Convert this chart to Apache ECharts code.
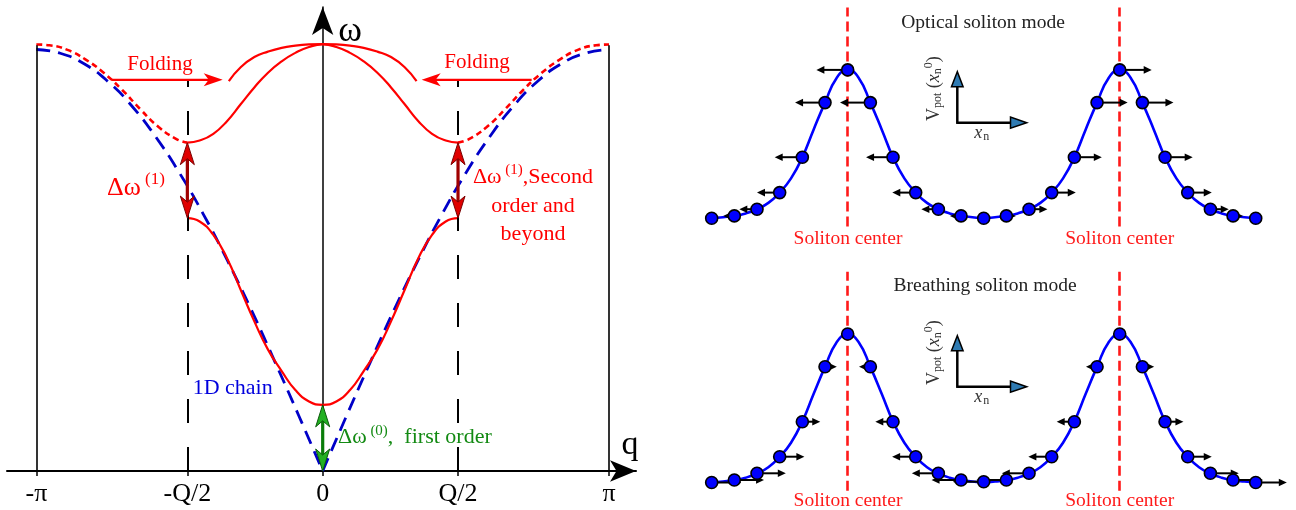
<!DOCTYPE html>
<html><head><meta charset="utf-8">
<script src="https://cdn.jsdelivr.net/npm/echarts@6/dist/echarts.min.js"></script>
<style>html,body{margin:0;padding:0;background:#fff}#c{width:1296px;height:510px}</style>
</head><body><div id="c"></div>
<script>
// ---------------- Left panel data (q in rad, ω normalised) ----------------
const PI = Math.PI;
const HALF_Q = 1.485;
const qTickValues = [-PI, -HALF_Q, 0, HALF_Q, PI];
const qTickLabels = ['-π', '-Q/2', '0', 'Q/2', 'π'];

// 1D chain (blue dashed)
const chainLeft = [[-3.142,1.0],[-2.880,0.991],[-2.618,0.966],[-2.356,0.924],[-2.094,0.866],[-1.833,0.793],[-1.571,0.707],[-1.309,0.609],[-1.047,0.5],[-0.785,0.383],[-0.524,0.259],[-0.262,0.131],[0,0]];
const chainRight = [[0,0],[0.262,0.131],[0.524,0.259],[0.785,0.383],[1.047,0.5],[1.309,0.609],[1.571,0.707],[1.833,0.793],[2.094,0.866],[2.356,0.924],[2.618,0.966],[2.880,0.991],[3.142,1.0]];
// lower band (red solid)
const lowerBand = [[-1.485,0.600],[-1.35,0.592],[-1.2,0.560],[-1.05,0.505],[-0.9,0.430],[-0.75,0.355],[-0.6,0.288],[-0.45,0.237],[-0.3,0.192],[-0.15,0.165],[0,0.157],[0.15,0.165],[0.3,0.192],[0.45,0.237],[0.6,0.288],[0.75,0.355],[0.9,0.430],[1.05,0.505],[1.2,0.560],[1.35,0.592],[1.485,0.600]];
// upper band (red solid)
const upperBand = [[-1.485,0.779],[-1.35,0.784],[-1.2,0.800],[-1.05,0.830],[-0.9,0.870],[-0.75,0.910],[-0.6,0.945],[-0.45,0.972],[-0.3,0.992],[-0.15,1.006],[0,1.012],[0.15,1.006],[0.3,0.992],[0.45,0.972],[0.6,0.945],[0.75,0.910],[0.9,0.870],[1.05,0.830],[1.2,0.800],[1.35,0.784],[1.485,0.779]];
// folded cap (red solid)
const capArc = [[-1.03,0.925],[-0.9,0.958],[-0.75,0.982],[-0.6,0.995],[-0.45,1.004],[-0.3,1.009],[-0.15,1.012],[0,1.013],[0.15,1.012],[0.3,1.009],[0.45,1.004],[0.6,0.995],[0.75,0.982],[0.9,0.958],[1.03,0.925]];
// outer extended-zone branches (red dotted)
const outerLeft = [[-3.142,1.012],[-3.0,1.010],[-2.8,0.999],[-2.6,0.976],[-2.4,0.944],[-2.2,0.904],[-2.0,0.858],[-1.8,0.816],[-1.6,0.787],[-1.485,0.779]];
const outerRight = [[1.485,0.779],[1.6,0.787],[1.8,0.816],[2.0,0.858],[2.2,0.904],[2.4,0.944],[2.6,0.976],[2.8,0.999],[3.0,1.010],[3.142,1.012]];
// folding arrows: [from q, to q, ω]
const foldArrows = [[-2.315,-1.097,0.928],[2.293,1.086,0.928]];
// gap arrows: [q, ω low, ω high]
const gap1Arrows = [[-HALF_Q,0.600,0.779],[HALF_Q,0.600,0.779]];
const gap0Arrows = [[0,0,0.157]];
const zoneLines = [-PI, PI];
const zoneTop = 1.01;
const halfQLines = [-HALF_Q, HALF_Q];
const halfQTop = 0.928;

// ---------------- Right panels data ----------------
const sites = [0,1,2,3,4,5,6,7,8,9,10,11,12,13,14,15,16,17,18,19,20,21,22,23,24];
const opticalProfile = [0.2,2.5,9.2,25.8,61.2,115.8,148.5,115.8,61.2,25.8,9.2,2.5,0.2,2.5,9.2,25.8,61.2,115.8,148.5,115.8,61.2,25.8,9.2,2.5,0.2];
const breathingProfile = [0.2,2.7,9.4,26,61,116,148.7,116,61,26,9.4,2.7,1,2.7,9.4,26,61,116,148.7,116,61,26,9.4,2.7,0.2];
const opticalDisp = [0,-0.49,-0.78,-1.0,-1.22,-1.32,-1.38,-1.34,-1.19,-1.03,-0.75,-0.49,0,0.42,0.81,1.06,1.21,1.35,1.41,1.37,1.22,1.06,0.81,0.44,0];
const breathingDisp = [1.3,1.31,1.27,1.09,0.79,0.52,0,-0.5,-0.78,-1.04,-1.17,-1.3,-1.36,-1.32,-1.2,-1.03,-0.78,-0.49,0,0.52,0.81,1.06,1.25,1.32,1.37];
const curveStep = 0.5;
const solitonCurve = [0.2,1.2,2.5,5,9.2,15.5,25.8,40,61.2,89,115.8,140,148.5,140,115.8,89,61.2,40,25.8,15.5,9.2,5,2.5,1.2,0.2,1.2,2.5,5,9.2,15.5,25.8,40,61.2,89,115.8,140,148.5,140,115.8,89,61.2,40,25.8,15.5,9.2,5,2.5,1.2,0.2];
const solitonCenters = [6, 18];
const centerLineRange = [-8, 211];

const SERIF = '"Liberation Serif","Times New Roman",serif';

function stealth(tip, ux, uy, len, hw, notch) {
  const bx = tip[0] - ux * len, by = tip[1] - uy * len;
  const px = -uy, py = ux;
  return [[tip[0], tip[1]], [bx + px * hw, by + py * hw], [tip[0] - ux * (len - notch), tip[1] - uy * (len - notch)], [bx - px * hw, by - py * hw]];
}

function doubleArrowSeries(data, shaft, fill, stroke) {
  return {
    type: 'custom', xAxisIndex: 0, yAxisIndex: 0, z: 5, clip: false, silent: true,
    data: data,
    renderItem: function (params, api) {
      const a = api.coord([api.value(0), api.value(1)]);
      const b = api.coord([api.value(0), api.value(2)]);
      return { type: 'group', children: [
        { type: 'line', shape: { x1: a[0], y1: a[1] - 10, x2: b[0], y2: b[1] + 10 }, style: { stroke: shaft, lineWidth: 3.2 } },
        { type: 'polygon', shape: { points: stealth(b, 0, -1, 22, 7, 6) }, style: { fill: fill, stroke: stroke, lineWidth: 1 } },
        { type: 'polygon', shape: { points: stealth(a, 0, 1, 22, 7, 6) }, style: { fill: fill, stroke: stroke, lineWidth: 1 } }
      ]};
    }
  };
}

function solitonSeries(gi, profile, disp) {
  const pts = sites.map((s, i) => [s, profile[i]]);
  const arr = sites.map((s, i) => [s, profile[i], disp[i]]);
  const curve = solitonCurve.map((h, i) => [i * curveStep, h]);
  return [
    { type: 'line', xAxisIndex: gi, yAxisIndex: gi, data: [], silent: true, z: 1,
      markLine: { silent: true, symbol: ['none', 'none'], label: { show: false }, z: 1,
        lineStyle: { color: '#ff1a1a', width: 2.6, type: [10, 5] },
        data: solitonCenters.map(c => [{ coord: [c, centerLineRange[0]] }, { coord: [c, centerLineRange[1]] }]) } },
    { type: 'line', xAxisIndex: gi, yAxisIndex: gi, data: curve, smooth: true, showSymbol: false, silent: true,
      lineStyle: { color: '#0000ff', width: 2.6 }, z: 2 },
    { type: 'custom', xAxisIndex: gi, yAxisIndex: gi, z: 3, clip: false, silent: true, data: arr,
      renderItem: function (params, api) {
        const d = api.value(2);
        if (!d) return null;
        const p0 = api.coord([api.value(0), api.value(1)]);
        const p1 = api.coord([api.value(0) + d, api.value(1)]);
        const ux = Math.sign(p1[0] - p0[0]);
        return { type: 'group', children: [
          { type: 'line', shape: { x1: p0[0], y1: p0[1], x2: p1[0] - ux * 6, y2: p1[1] }, style: { stroke: '#000', lineWidth: 2 } },
          { type: 'polygon', shape: { points: [[p1[0], p1[1]], [p1[0] - ux * 8, p1[1] - 3.8], [p1[0] - ux * 8, p1[1] + 3.8]] }, style: { fill: '#000' } }
        ]};
      } },
    { type: 'scatter', xAxisIndex: gi, yAxisIndex: gi, data: pts, symbolSize: 12, z: 4, silent: true,
      itemStyle: { color: '#0000ff', borderColor: '#000', borderWidth: 1.6, opacity: 1 } }
  ];
}

function labelFor(v) {
  for (let i = 0; i < qTickValues.length; i++) if (Math.abs(v - qTickValues[i]) < 1e-6) return qTickLabels[i];
  return '';
}

function redLine(data, type) {
  return { type: 'line', xAxisIndex: 0, yAxisIndex: 0, data: data, smooth: true, showSymbol: false, silent: true, z: 3,
    lineStyle: { color: '#ff0000', width: type === 'solid' ? 2.2 : 2.6, type: type } };
}
function blueLine(data) {
  return { type: 'line', xAxisIndex: 0, yAxisIndex: 0, data: data, smooth: true, showSymbol: false, silent: true, z: 2,
    lineStyle: { color: '#0000c8', width: 2.8, type: [14, 8] } };
}

function inset(baseY) {
  const x0 = 957.3;
  return [
    { type: 'line', shape: { x1: x0, y1: baseY + 1.2, x2: x0, y2: baseY - 36 }, style: { stroke: '#000', lineWidth: 2.5 } },
    { type: 'polygon', shape: { points: [[x0, baseY - 51], [x0 - 5.8, baseY - 36], [x0 + 5.8, baseY - 36]] }, style: { fill: '#2f7bb3', stroke: '#000', lineWidth: 1.5 } },
    { type: 'line', shape: { x1: x0, y1: baseY, x2: 1011, y2: baseY }, style: { stroke: '#000', lineWidth: 2.5 } },
    { type: 'polygon', shape: { points: [[1026.7, baseY], [1010.5, baseY - 5.6], [1010.5, baseY + 5.6]] }, style: { fill: '#2f7bb3', stroke: '#000', lineWidth: 1.5 } },
    { type: 'text', x: 981.7, y: baseY + 10.5, style: { text: '{i|x}{s|n}', align: 'center', verticalAlign: 'middle',
      rich: { i: { fontFamily: SERIF, fontStyle: 'italic', fontSize: 18, fill: '#333' }, s: { fontFamily: SERIF, fontSize: 12, fill: '#333', padding: [8, 0, 0, 1] } } } },
    { type: 'text', x: 934, y: baseY - 34, rotation: Math.PI / 2, style: { text: '{r|V}{s|pot}{r| (}{i|x}{s|n}{p|0}{r|)}', align: 'center', verticalAlign: 'middle',
      rich: { r: { fontFamily: SERIF, fontSize: 18, fill: '#333' }, i: { fontFamily: SERIF, fontStyle: 'italic', fontSize: 18, fill: '#333' },
        s: { fontFamily: SERIF, fontSize: 12, fill: '#333', padding: [8, 0, 0, 0] }, p: { fontFamily: SERIF, fontSize: 12, fill: '#333', padding: [0, 0, 10, 0] } } } }
  ];
}

const txt = (x, y, text, size, color, align) => ({ type: 'text', x: x, y: y, silent: true,
  style: { text: text, fontFamily: SERIF, fontSize: size, fill: color, align: align || 'center', verticalAlign: 'middle' } });

const option = {
  animation: false,
  backgroundColor: '#ffffff',
  grid: [
    { left: 7, right: 660, top: 7, bottom: 39 },
    { left: 689, right: 17.6, top: 6.4, bottom: 271.6 },
    { left: 689, right: 17.6, top: 270.7, bottom: 7.3 }
  ],
  xAxis: [
    { gridIndex: 0, type: 'value', min: -3.464, max: 3.438, splitLine: { show: false },
      axisLine: { onZero: true, symbol: ['none', 'arrow'], symbolSize: [16, 26], lineStyle: { color: '#000', width: 2 } },
      axisTick: { show: true, customValues: qTickValues, length: 5, lineStyle: { color: '#000', width: 1.5 } },
      axisLabel: { customValues: qTickValues, formatter: labelFor, fontFamily: SERIF, fontSize: 26, color: '#000', margin: 10 } },
    { gridIndex: 1, type: 'value', min: -1, max: 25, show: false },
    { gridIndex: 2, type: 'value', min: -1, max: 25, show: false }
  ],
  yAxis: [
    { gridIndex: 0, type: 'value', min: 0, max: 1.1008, splitLine: { show: false }, axisTick: { show: false }, axisLabel: { show: false },
      axisLine: { show: true, onZero: true, symbol: ['none', 'arrow'], symbolSize: [16, 28], lineStyle: { color: '#000', width: 1.5 } } },
    { gridIndex: 1, type: 'value', min: -20, max: 212, show: false },
    { gridIndex: 2, type: 'value', min: -20, max: 212, show: false }
  ],
  series: [
    { type: 'line', xAxisIndex: 0, yAxisIndex: 0, data: [], silent: true,
      markLine: { silent: true, symbol: ['none', 'none'], label: { show: false },
        data: zoneLines.map(q => [{ coord: [q, 0], lineStyle: { color: '#000', width: 1.6, type: 'solid' } }, { coord: [q, zoneTop] }])
          .concat(halfQLines.map(q => [{ coord: [q, 0], lineStyle: { color: '#000', width: 2, type: [24, 24] } }, { coord: [q, halfQTop] }])) } },
    blueLine(chainLeft), blueLine(chainRight),
    redLine(outerLeft, [6, 4]), redLine(outerRight, [6, 4]),
    redLine(lowerBand, 'solid'), redLine(upperBand, 'solid'), redLine(capArc, 'solid'),
    { type: 'custom', xAxisIndex: 0, yAxisIndex: 0, z: 5, clip: false, silent: true, data: foldArrows,
      renderItem: function (params, api) {
        const p0 = api.coord([api.value(0), api.value(2)]);
        const p1 = api.coord([api.value(1), api.value(2)]);
        const ux = Math.sign(p1[0] - p0[0]);
        return { type: 'group', children: [
          { type: 'line', shape: { x1: p0[0], y1: p0[1], x2: p1[0] - ux * 12, y2: p1[1] }, style: { stroke: '#ff0000', lineWidth: 2.2 } },
          { type: 'polygon', shape: { points: stealth(p1, ux, 0, 19, 6.5, 5) }, style: { fill: '#ff0000' } }
        ]};
      } },
    doubleArrowSeries(gap1Arrows, '#a00000', '#e00000', '#7a0000'),
    doubleArrowSeries(gap0Arrows, '#0a7d0a', '#22b022', '#0a5a0a')
  ].concat(solitonSeries(1, opticalProfile, opticalDisp)).concat(solitonSeries(2, breathingProfile, breathingDisp)),
  graphic: [
    txt(160, 64, 'Folding', 21, '#ff0000'),
    txt(477, 62, 'Folding', 21, '#ff0000'),
    { type: 'text', x: 107, y: 188, silent: true, style: { text: '{a|Δω}{s| (1)}', align: 'left', verticalAlign: 'middle',
      rich: { a: { fontFamily: SERIF, fontSize: 26, fill: '#ff0000' }, s: { fontFamily: SERIF, fontSize: 17, fill: '#ff0000', padding: [0, 0, 16, 0] } } } },
    { type: 'text', x: 533, y: 206, silent: true, style: { text: '{a|Δω}{s| (1)}{a|,Second}\n{a|order and}\n{a|beyond}', align: 'center', verticalAlign: 'middle',
      rich: { a: { fontFamily: SERIF, fontSize: 22, fill: '#ff0000', lineHeight: 28.5 }, s: { fontFamily: SERIF, fontSize: 15, fill: '#ff0000', padding: [0, 0, 14, 0], lineHeight: 28.5 } } } },
    txt(232.7, 388.3, '1D chain', 22, '#0000dd'),
    { type: 'text', x: 338, y: 437, silent: true, style: { text: '{a|Δω}{s| (0)}{a|,  first order}', align: 'left', verticalAlign: 'middle',
      rich: { a: { fontFamily: SERIF, fontSize: 22, fill: '#138a13' }, s: { fontFamily: SERIF, fontSize: 15, fill: '#138a13', padding: [0, 0, 12, 0] } } } },
    txt(350, 32, 'ω', 36, '#000'),
    txt(630, 445, 'q', 34, '#000'),
    txt(983, 23, 'Optical soliton mode', 19.5, '#222'),
    txt(985, 286, 'Breathing soliton mode', 19.5, '#222'),
    txt(848, 238.5, 'Soliton center', 19.5, '#ff1a1a'),
    txt(1119.7, 238.5, 'Soliton center', 19.5, '#ff1a1a'),
    txt(848, 501, 'Soliton center', 19.5, '#ff1a1a'),
    txt(1119.7, 501, 'Soliton center', 19.5, '#ff1a1a')
  ].concat(inset(122.7)).concat(inset(386.7))
};

const chart = echarts.init(document.getElementById('c'), null, { renderer: 'canvas' });
chart.setOption(option);
</script>
</body></html>
